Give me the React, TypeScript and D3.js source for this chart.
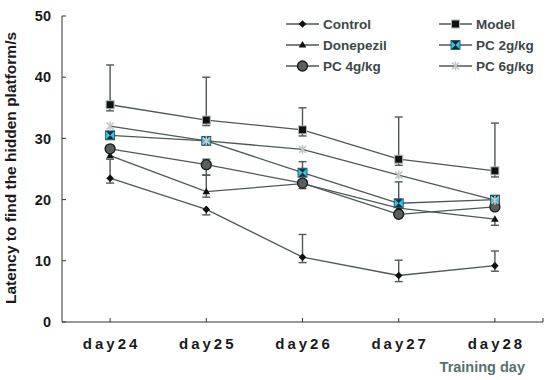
import { useRef, useEffect } from "react";
import * as d3 from "d3";

const WIDTH = 550;
const HEIGHT = 380;
const FONT = "Arial, 'Liberation Sans', Helvetica, sans-serif";
const LINE = "#4d5858";
const MARGIN = { top: 16, left: 62, right: 7, bottom: 58 };

const DAYS = ["day24", "day25", "day26", "day27", "day28"];
const Y_TICKS = [0, 10, 20, 30, 40, 50];

const CONTROL = [23.5, 18.4, 10.6, 7.6, 9.2];
const CONTROL_LO = [22.7, 17.5, 9.7, 6.6, 8.3];
const CONTROL_HI = [26.6, null, 14.3, 10.1, 11.6];

const MODEL = [35.5, 33.0, 31.4, 26.6, 24.7];
const MODEL_LO = [34.5, 32.1, 30.4, 25.6, 23.7];
const MODEL_HI = [42.0, 40.0, 35.0, 33.5, 32.5];

const DONEPEZIL = [27.2, 21.3, 22.6, 18.6, 16.8];
const DONEPEZIL_LO = [null, 20.4, null, null, 15.8];
const DONEPEZIL_HI = [null, 24.0, null, null, null];

const PC2 = [30.5, 29.6, 24.4, 19.4, 20.0];
const PC2_LO = [null, null, null, null, null];
const PC2_HI = [null, null, 26.2, 22.9, null];

const PC4 = [28.3, 25.7, 22.7, 17.6, 18.8];
const PC4_LO = [null, 24.0, 21.8, null, null];
const PC4_HI = [null, 26.6, null, null, null];

const PC6 = [32.0, 29.6, 28.2, 24.0, 19.9];
const PC6_LO = [null, null, null, null, null];
const PC6_HI = [null, null, null, null, null];

type Marker = "diamond" | "square" | "triangle" | "hourglass" | "circle" | "star";

interface Series {
  name: string;
  values: number[];
  lo: (number | null)[];
  hi: (number | null)[];
  marker: Marker;
}

const SERIES: Series[] = [
  { name: "Control", values: CONTROL, lo: CONTROL_LO, hi: CONTROL_HI, marker: "diamond" },
  { name: "Model", values: MODEL, lo: MODEL_LO, hi: MODEL_HI, marker: "square" },
  { name: "Donepezil", values: DONEPEZIL, lo: DONEPEZIL_LO, hi: DONEPEZIL_HI, marker: "triangle" },
  { name: "PC 2g/kg", values: PC2, lo: PC2_LO, hi: PC2_HI, marker: "hourglass" },
  { name: "PC 4g/kg", values: PC4, lo: PC4_LO, hi: PC4_HI, marker: "circle" },
  { name: "PC 6g/kg", values: PC6, lo: PC6_LO, hi: PC6_HI, marker: "star" },
];

function drawMarker(g: d3.Selection<SVGGElement, unknown, null, undefined>, m: Marker, x: number, y: number) {
  switch (m) {
    case "diamond":
      g.append("path")
        .attr("d", `M${x},${y - 3.8}L${x + 3.8},${y}L${x},${y + 3.8}L${x - 3.8},${y}Z`)
        .attr("fill", "#111");
      break;
    case "square":
      g.append("rect")
        .attr("x", x - 4).attr("y", y - 4).attr("width", 8).attr("height", 8)
        .attr("fill", "#111").attr("stroke", "#b8bcbc").attr("stroke-width", 1);
      break;
    case "triangle":
      g.append("path")
        .attr("d", `M${x},${y - 4}L${x + 3.8},${y + 2.6}L${x - 3.8},${y + 2.6}Z`)
        .attr("fill", "#111");
      break;
    case "hourglass":
      g.append("rect")
        .attr("x", x - 4.5).attr("y", y - 4.5).attr("width", 9).attr("height", 9)
        .attr("fill", "#2ec8ec").attr("stroke", "#1c3c48").attr("stroke-width", 0.8);
      g.append("path")
        .attr("d", `M${x - 4},${y - 4}L${x + 4},${y - 4}L${x},${y}Z M${x - 4},${y + 4}L${x + 4},${y + 4}L${x},${y}Z`)
        .attr("fill", "#0f2a38");
      break;
    case "circle":
      g.append("circle")
        .attr("cx", x).attr("cy", y).attr("r", 5)
        .attr("fill", "#5a5e5e").attr("stroke", "#1a1a1a").attr("stroke-width", 1.3);
      break;
    case "star":
      g.append("path")
        .attr("d", `M${x - 3.5},${y - 3.5}L${x + 3.5},${y + 3.5}M${x - 3.5},${y + 3.5}L${x + 3.5},${y - 3.5}M${x},${y - 4.5}L${x},${y + 4.5}`)
        .attr("stroke", "#c4caca").attr("stroke-width", 1.6).attr("fill", "none");
      break;
  }
}

export default function App() {
  const svgRef = useRef<SVGSVGElement>(null);

  useEffect(() => {
    const svg = svgRef.current;
    if (!svg) return;
    const root = d3.select(svg);
    root.selectAll("*").remove();

    const x = d3
      .scaleBand<string>()
      .domain(DAYS)
      .range([MARGIN.left, WIDTH - MARGIN.right]);
    const cx = (d: string) => (x(d) ?? 0) + x.bandwidth() / 2;
    const y = d3
      .scaleLinear()
      .domain([0, 50])
      .range([HEIGHT - MARGIN.bottom, MARGIN.top]);

    const g = root.append("g");

    // axes
    g.append("line")
      .attr("x1", MARGIN.left).attr("x2", MARGIN.left)
      .attr("y1", y(50)).attr("y2", y(0))
      .attr("stroke", "#333").attr("stroke-width", 1);
    g.append("line")
      .attr("x1", MARGIN.left).attr("x2", WIDTH - MARGIN.right)
      .attr("y1", y(0)).attr("y2", y(0))
      .attr("stroke", "#333").attr("stroke-width", 1);

    for (const t of Y_TICKS) {
      g.append("line")
        .attr("x1", MARGIN.left).attr("x2", MARGIN.left + 4)
        .attr("y1", y(t)).attr("y2", y(t))
        .attr("stroke", "#333");
      g.append("text")
        .attr("x", 51).attr("y", y(t)).attr("dy", "0.36em")
        .attr("text-anchor", "end")
        .attr("font-family", FONT).attr("font-weight", "bold").attr("font-size", 14.5)
        .attr("fill", "#1a1a1a")
        .text(t);
    }

    for (const d of DAYS) {
      g.append("line")
        .attr("x1", cx(d)).attr("x2", cx(d))
        .attr("y1", y(0)).attr("y2", y(0) - 4)
        .attr("stroke", "#333");
      g.append("text")
        .attr("x", cx(d) + 1.5).attr("y", 349)
        .attr("text-anchor", "middle")
        .attr("font-family", FONT).attr("font-weight", "bold").attr("font-size", 15)
        .attr("letter-spacing", 3)
        .attr("fill", "#1a1a1a")
        .text(d);
    }
    g.append("line")
      .attr("x1", WIDTH - MARGIN.right).attr("x2", WIDTH - MARGIN.right)
      .attr("y1", y(0)).attr("y2", y(0) - 4)
      .attr("stroke", "#333");

    g.append("text")
      .attr("x", 525).attr("y", 372)
      .attr("text-anchor", "end")
      .attr("font-family", FONT).attr("font-weight", "bold").attr("font-size", 14.5)
      .attr("fill", "#587070")
      .text("Training day");

    g.append("text")
      .attr("transform", `translate(16,168) rotate(-90)`)
      .attr("text-anchor", "middle")
      .attr("font-family", FONT).attr("font-weight", "bold").attr("font-size", 15.5)
      .attr("fill", "#1a1a1a")
      .text("Latency to find the hidden platform/s");

    // lines
    const line = d3
      .line<number>()
      .x((_, i) => cx(DAYS[i]))
      .y((v) => y(v));
    for (const s of SERIES) {
      g.append("path")
        .attr("d", line(s.values))
        .attr("fill", "none")
        .attr("stroke", LINE)
        .attr("stroke-width", 1.3);
    }

    // error bars
    for (const s of SERIES) {
      s.values.forEach((v, i) => {
        const lo = s.lo[i];
        const hi = s.hi[i];
        if (lo == null && hi == null) return;
        const px = cx(DAYS[i]);
        const a = lo ?? v;
        const b = hi ?? v;
        g.append("line")
          .attr("x1", px).attr("x2", px)
          .attr("y1", y(a)).attr("y2", y(b))
          .attr("stroke", LINE).attr("stroke-width", 1.4);
        for (const c of [lo, hi]) {
          if (c == null) continue;
          g.append("line")
            .attr("x1", px - 4).attr("x2", px + 4)
            .attr("y1", y(c)).attr("y2", y(c))
            .attr("stroke", LINE).attr("stroke-width", 1.4);
        }
      });
    }

    // markers
    for (const s of SERIES) {
      s.values.forEach((v, i) => drawMarker(g, s.marker, cx(DAYS[i]), y(v)));
    }

    // legend
    const legendX = [286, 439];
    const legendY = [24, 45, 66];
    SERIES.forEach((s, i) => {
      const lx = legendX[i % 2];
      const ly = legendY[Math.floor(i / 2)];
      g.append("line")
        .attr("x1", lx).attr("x2", lx + 33)
        .attr("y1", ly).attr("y2", ly)
        .attr("stroke", LINE).attr("stroke-width", 1.3);
      drawMarker(g, s.marker, lx + 16.5, ly);
      g.append("text")
        .attr("x", lx + 37).attr("y", ly).attr("dy", "0.36em")
        .attr("font-family", FONT).attr("font-weight", "bold").attr("font-size", 13.5)
        .attr("fill", "#3d4747")
        .text(s.name);
    });
  }, []);

  return (
    <svg
      ref={svgRef}
      width={WIDTH}
      height={HEIGHT}
      style={{ position: "absolute", left: 0, top: 0, background: "#fff" }}
    />
  );
}
